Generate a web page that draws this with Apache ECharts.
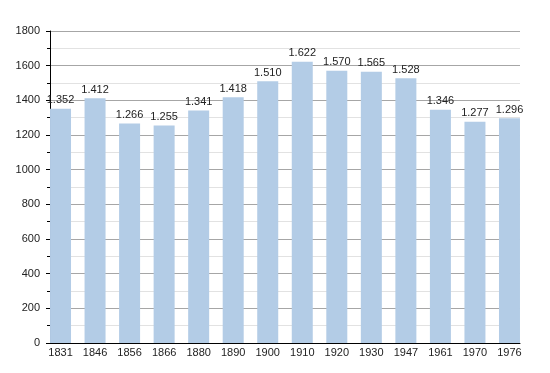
<!DOCTYPE html>
<html>
<head>
<meta charset="utf-8">
<script src="https://cdn.jsdelivr.net/npm/echarts@6/dist/echarts.min.js"></script>
<style>html,body{margin:0;padding:0;background:#fff}#c{width:550px;height:373px}</style>
</head>
<body>
<div id="c"></div>
<script>
var years = ['1831','1846','1856','1866','1880','1890','1900','1910','1920','1930','1947','1961','1970','1976'];
var population = [1352, 1412, 1266, 1255, 1341, 1418, 1510, 1622, 1570, 1565, 1528, 1346, 1277, 1296];
var yTicks = {min: 0, max: 1800, interval: 200};

function fmt(v) { return String(v).replace(/\B(?=(\d{3})+(?!\d))/g, '.'); }

var font = 'Liberation Sans, Arial, sans-serif';
var chart = echarts.init(document.getElementById('c'), null, {renderer: 'canvas'});
chart.setOption({
  animation: false,
  backgroundColor: '#ffffff',
  grid: [
    {left: 50, right: 30, top: 31, bottom: 30},
    {left: 43.25, right: 23.25, top: 31, bottom: 30}
  ],
  xAxis: [
    {gridIndex: 0, type: 'value', min: 0, max: 1, position: 'bottom',
     axisLine: {show: true, lineStyle: {color: '#000', width: 1}},
     axisTick: {show: false}, axisLabel: {show: false}, splitLine: {show: false}},
    {gridIndex: 1, type: 'category', data: years, boundaryGap: true,
     axisLine: {show: false}, axisTick: {show: false},
     axisLabel: {color: '#222', fontSize: 11, fontFamily: font, margin: 4}}
  ],
  yAxis: [
    {gridIndex: 0, type: 'value', min: yTicks.min, max: yTicks.max, interval: yTicks.interval,
     axisLine: {show: true, lineStyle: {color: '#000', width: 1}},
     axisTick: {show: true, length: 4, lineStyle: {color: '#000'}},
     minorTick: {show: true, splitNumber: 2, length: 3, lineStyle: {color: '#000'}},
     axisLabel: {color: '#222', fontSize: 11, fontFamily: font, margin: 10,
                 formatter: function (v) { return String(v); }},
     splitLine: {show: true, lineStyle: {color: '#a6a6a6', width: 1}},
     minorSplitLine: {show: true, lineStyle: {color: '#e2e2e2', width: 1}}},
    {gridIndex: 1, type: 'value', min: yTicks.min, max: yTicks.max, show: false,
     splitLine: {show: false}}
  ],
  series: [{
    type: 'bar', xAxisIndex: 1, yAxisIndex: 1, data: population, barWidth: 21,
    itemStyle: {color: '#b3cce6'},
    label: {show: true, position: 'top', distance: 3, color: '#222', fontSize: 11, fontFamily: font,
            formatter: function (p) { return fmt(p.value); }}
  }]
});
</script>
</body>
</html>
